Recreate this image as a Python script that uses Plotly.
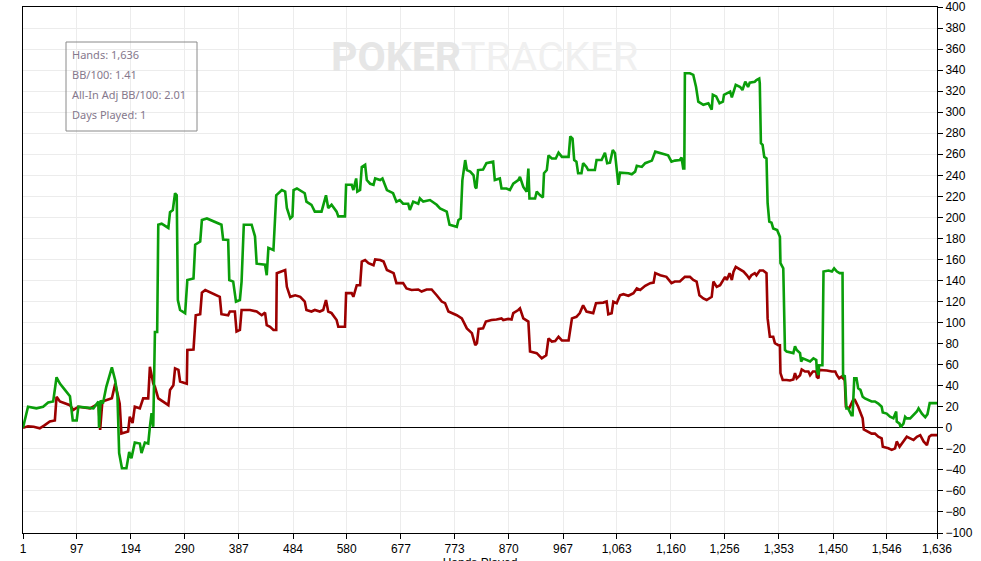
import plotly.graph_objects as go

# all-in adjusted winnings (green), in big blinds
green_hands = [1, 10, 25, 37, 46, 55, 61, 67, 76, 85, 90, 97, 100, 127, 136, 137, 140, 144, 150, 160,
               166, 170, 173, 178, 186, 191, 195, 201, 210, 213, 219, 225, 228, 231, 234, 237, 241, 243, 249, 261,
               264, 269, 273, 276, 278, 282, 291, 295, 306, 309, 318, 321, 330, 356, 359, 368, 370, 377, 382, 389,
               392, 396, 410, 416, 419, 434, 437, 440, 449, 454, 464, 470, 473, 479, 483, 485, 491, 505, 508, 517,
               523, 535, 543, 547, 553, 562, 565, 577, 579, 589, 592, 597, 599, 604, 607, 613, 616, 622, 628, 631,
               640, 644, 652, 663, 669, 675, 681, 690, 693, 699, 708, 711, 717, 729, 741, 747, 759, 764, 777, 780,
               784, 787, 792, 795, 801, 807, 810, 812, 815, 824, 830, 842, 845, 854, 857, 866, 872, 878, 887, 890,
               896, 902, 905, 907, 917, 920, 926, 931, 933, 938, 941, 947, 954, 959, 965, 977, 980, 984, 987, 991,
               994, 1000, 1003, 1009, 1012, 1024, 1027, 1036, 1042, 1046, 1051, 1056, 1060, 1063, 1066, 1069, 1078, 1084, 1090, 1096,
               1099, 1108, 1114, 1120, 1126, 1132, 1144, 1155, 1161, 1167, 1176, 1179, 1182, 1184, 1185, 1194, 1200, 1205, 1209, 1218,
               1227, 1233, 1235, 1241, 1247, 1253, 1255, 1261, 1266, 1269, 1272, 1276, 1284, 1288, 1293, 1298, 1301, 1310, 1313, 1318,
               1319, 1321, 1324, 1327, 1331, 1333, 1336, 1340, 1343, 1350, 1355, 1356, 1361, 1364, 1367, 1376, 1379, 1382, 1385, 1391,
               1393, 1396, 1403, 1409, 1415, 1420, 1421, 1424, 1425, 1431, 1433, 1442, 1448, 1452, 1457, 1462, 1467, 1468, 1471, 1474,
               1477, 1483, 1485, 1488, 1492, 1495, 1499, 1503, 1507, 1519, 1525, 1531, 1537, 1539, 1546, 1552, 1558, 1563, 1564, 1569,
               1571, 1576, 1579, 1582, 1588, 1594, 1600, 1603, 1609, 1615, 1619, 1623, 1636]
green_bb = [0, 20, 18.5, 20, 24, 25, 48, 42, 36, 30, 7, 7, 20, 18.5, 25, 0, 26, 23, 39, 57.5,
            45, 30, -24, -38.5, -38.5, -23, -29, -14, -15, -24, -14, -15, 1, 14, 1, 91, 91, 193, 194, 190,
            205, 207, 223, 221, 121.5, 112, 109, 140.5, 142, 174, 177, 197.5, 199, 193, 179, 178.5, 140.5, 139, 120, 121.5,
            139, 193, 193, 182, 156, 155, 145, 171, 169, 221, 226, 224.5, 209, 199, 201, 226, 227.5, 223, 215, 212,
            205.5, 205.5, 221, 209, 212, 205.5, 201, 201, 231, 231, 226, 237, 224.5, 226, 248, 250, 235.5, 232, 231, 237,
            235.5, 237, 226, 223, 215, 216.5, 213, 213, 207, 215, 213, 218, 215, 216.5, 212, 208.5, 205.5, 193, 191, 197.5,
            199, 235.5, 254.5, 245, 243.5, 240, 229, 227.5, 245, 245.5, 251.5, 253, 235.5, 237, 227.5, 227.5, 226, 232, 235.5, 238.5,
            229, 224.5, 246.5, 218, 218, 224.5, 221, 219, 242, 245, 259, 256, 256, 261.5, 257.5, 257.5, 277, 275, 254.5, 253,
            242, 242, 251.5, 248, 245, 245, 254.5, 254.5, 261.5, 251.5, 252, 264, 261, 248, 231, 242.5, 242.5, 242, 241, 243.5,
            249, 248, 251.5, 253, 254, 262.5, 261, 259, 253, 254, 254.5, 257, 246.5, 246.5, 337, 337, 335.5, 324, 310, 307,
            308.5, 302.5, 316.5, 315, 308.5, 310, 316.5, 318, 319.5, 314, 319.5, 326, 324, 321, 329, 324, 328, 329, 330.5, 332,
            327.5, 270.5, 269, 257.5, 256, 213.5, 196, 195, 189.5, 188, 181.5, 156.5, 151.5, 74, 72.5, 71, 71, 77.5, 74, 71,
            63, 66, 64.5, 63, 66, 64.5, 55, 50, 59.5, 59.5, 148.5, 149.5, 148.5, 151.5, 148.5, 147, 147, 48.5, 50, 18.5,
            18.5, 12, 12, 47, 47, 37.5, 36, 29.5, 28, 25, 25, 23, 20, 14.5, 13.5, 10.5, 9, 15.5, 6, 4,
            0.5, 4, 10.5, 9, 9, 12, 15.5, 18.5, 13.5, 10, 13, 23.5, 23.5]

# actual winnings (red), in big blinds
red_hands = [1, 10, 20, 31, 40, 49, 58, 61, 67, 85, 91, 100, 121, 136, 139, 143, 160, 166, 174, 177,
             189, 192, 197, 201, 210, 216, 225, 228, 234, 237, 243, 261, 264, 270, 273, 279, 282, 294, 295, 306,
             310, 318, 321, 327, 353, 356, 368, 371, 380, 383, 389, 392, 407, 419, 428, 434, 437, 443, 449, 454,
             455, 464, 470, 473, 479, 488, 497, 505, 508, 517, 523, 532, 538, 543, 547, 553, 562, 565, 577, 579,
             589, 592, 598, 604, 607, 613, 619, 628, 631, 640, 646, 652, 664, 669, 681, 687, 696, 708, 714, 723,
             732, 741, 750, 756, 762, 777, 786, 795, 804, 810, 813, 816, 824, 829, 839, 848, 857, 860, 869, 875,
             878, 887, 890, 896, 905, 908, 920, 929, 937, 941, 947, 953, 959, 965, 977, 983, 991, 997, 1003, 1009,
             1021, 1026, 1039, 1045, 1048, 1054, 1057, 1063, 1069, 1075, 1084, 1093, 1099, 1105, 1114, 1123, 1129, 1132, 1141, 1152,
             1161, 1167, 1176, 1185, 1194, 1200, 1206, 1211, 1218, 1224, 1230, 1233, 1236, 1242, 1248, 1254, 1257, 1260, 1265, 1269,
             1272, 1276, 1284, 1290, 1296, 1300, 1304, 1310, 1313, 1319, 1325, 1331, 1333, 1337, 1343, 1346, 1352, 1355, 1356, 1360,
             1367, 1373, 1379, 1382, 1385, 1391, 1394, 1400, 1406, 1409, 1414, 1420, 1421, 1424, 1425, 1430, 1439, 1448, 1454, 1457,
             1461, 1465, 1471, 1473, 1479, 1486, 1489, 1495, 1499, 1503, 1505, 1513, 1519, 1525, 1531, 1537, 1539, 1549, 1555, 1561,
             1564, 1569, 1573, 1579, 1582, 1588, 1594, 1600, 1606, 1612, 1618, 1622, 1626, 1636]
red_bb = [0, 1.5, 1, -0.5, 2.5, 6, 7, 29.5, 25, 21.5, 17, 20, 18.5, 23, -2, 25, 28, 42, 23, -5.5,
          -3.5, 10.5, 4.5, 20, 18.5, 28, 28, 58, 42, 39, 28, 21.5, 36, 40.5, 56.5, 55, 44, 42, 74, 74.5,
          107, 108, 128.5, 131, 124.5, 108, 107, 110.5, 110.5, 91.5, 93, 112, 112, 110.5, 107, 109.5, 97.5, 96, 93, 93,
          147, 148.5, 150, 134, 124.5, 126, 124.5, 120, 112, 110.5, 112, 110.5, 112, 121.5, 110.5, 109, 102.5, 96, 96, 128,
          128, 124.5, 135.5, 135.5, 158, 159.5, 156.5, 154.5, 160, 159.5, 158, 150, 147, 137.5, 137.5, 132.5, 131, 131.5, 129.5, 131.5,
          131.5, 126, 120, 118.5, 110.5, 107, 104, 94.5, 90, 78.5, 80.5, 94, 94.5, 101, 102.5, 103, 104, 102.5, 103.5, 103,
          109, 112, 113.5, 104, 101, 72.5, 71, 66, 69, 85, 82, 82.5, 86.5, 83, 83, 104, 105.5, 109, 116.5, 110.5,
          109, 118.5, 119, 120, 108, 109, 120, 118.5, 126, 127, 125.5, 128, 132.5, 131, 135, 137.5, 138, 147, 145, 143.5,
          137.5, 139, 139, 143.5, 143.5, 140.5, 139, 126, 123, 121.5, 123, 124.5, 139, 134, 135.5, 140.5, 143.5, 140.5, 147, 140.5,
          148.5, 153, 150, 148.5, 145, 142, 145, 147, 145, 149.5, 149.5, 147, 104, 86.5, 86.5, 80.5, 78.5, 78.5, 52, 45.5,
          45.5, 45, 46, 52, 47, 50, 55.5, 53.5, 53.5, 50, 53.5, 53.5, 48.5, 47, 55, 55, 54.5, 53.5, 53.5, 50,
          47, 48.5, 45.5, 20, 18.5, 26.5, 26.5, 20, 13.5, 9, -1.5, -3.5, -5.5, -5.5, -8.5, -10, -18, -19.5, -21, -19.5,
          -13, -18, -15, -11.5, -8.5, -10, -11.5, -8.5, -7, -13, -16.5, -8.5, -7, -7]

tick_hands = [1, 97, 194, 290, 387, 484, 580, 677, 773, 870, 967, 1063, 1160, 1256, 1353, 1450, 1546, 1636]
tick_labels = ["1", "97", "194", "290", "387", "484", "580", "677", "773", "870", "967", "1,063",
               "1,160", "1,256", "1,353", "1,450", "1,546", "1,636"]

stats_lines = ["Hands: 1,636", "BB/100: 1.41", "All-In Adj BB/100: 2.01", "Days Played: 1"]

TICK_FONT = dict(family="Liberation Sans, Arial, sans-serif", size=12, color="#000000")

fig = go.Figure()

fig.add_trace(go.Scatter(x=red_hands, y=red_bb, mode="lines",
                         line=dict(color="#9c0000", width=2.6), hoverinfo="skip"))
fig.add_trace(go.Scatter(x=green_hands, y=green_bb, mode="lines",
                         line=dict(color="#0a9e0a", width=2.6), hoverinfo="skip"))

# figure runs past the bottom of the window so the x-axis title gets clipped
fig.update_layout(
    width=981, height=580,
    margin=dict(l=23, r=44, t=7, b=47),
    plot_bgcolor="white", paper_bgcolor="white",
    showlegend=False,
)

fig.update_xaxes(
    range=[1, 1636],
    tickvals=tick_hands, ticktext=tick_labels,
    tickfont=TICK_FONT,
    ticks="outside", ticklen=5, tickcolor="#000000",
    showline=True, linecolor="#000000", linewidth=1, mirror=True,
    showgrid=True, gridcolor="#ececec", gridwidth=1,
    zeroline=False,
    title=dict(text="Hands Played", font=TICK_FONT, standoff=2),
    automargin=False,
)

fig.update_yaxes(
    range=[-100, 400], dtick=20, side="right",
    tickfont=TICK_FONT,
    ticks="outside", ticklen=5, tickcolor="#000000",
    showline=True, linecolor="#000000", linewidth=1, mirror=True,
    showgrid=True, gridcolor="#ececec", gridwidth=1,
    zeroline=True, zerolinecolor="#000000", zerolinewidth=1,
    automargin=False,
)

# watermark
fig.add_annotation(
    xref="paper", yref="paper", x=0.505, y=0.905, xanchor="center", yanchor="middle",
    text="<b><span style='color:#e6e6e6'>POKER</span></b>TRACKER", showarrow=False,
    font=dict(family="Roboto, sans-serif", size=41, color="#f0f0f0"),
)

# stats box
box_x0, box_x1 = (66 - 23) / 914, (197 - 23) / 914
box_y1, box_y0 = 1 - (42 - 7) / 526, 1 - (131 - 7) / 526
fig.add_shape(type="rect", xref="paper", yref="paper",
              x0=box_x0, x1=box_x1, y0=box_y0, y1=box_y1,
              line=dict(color="#8a8a8a", width=1))
for i, line in enumerate(stats_lines):
    fig.add_annotation(
        xref="paper", yref="paper",
        x=(70 - 23) / 914, y=1 - (54 + 20 * i - 7) / 526,
        xanchor="left", yanchor="middle", text=line, showarrow=False,
        font=dict(family="Noto Sans, sans-serif", size=11, color="#85788c"),
    )

# drop the default 8px page margin so the figure sits at the window corner
fig.write_html("out.html", config={"displayModeBar": False},
               post_script="document.body.style.margin = '0';")
